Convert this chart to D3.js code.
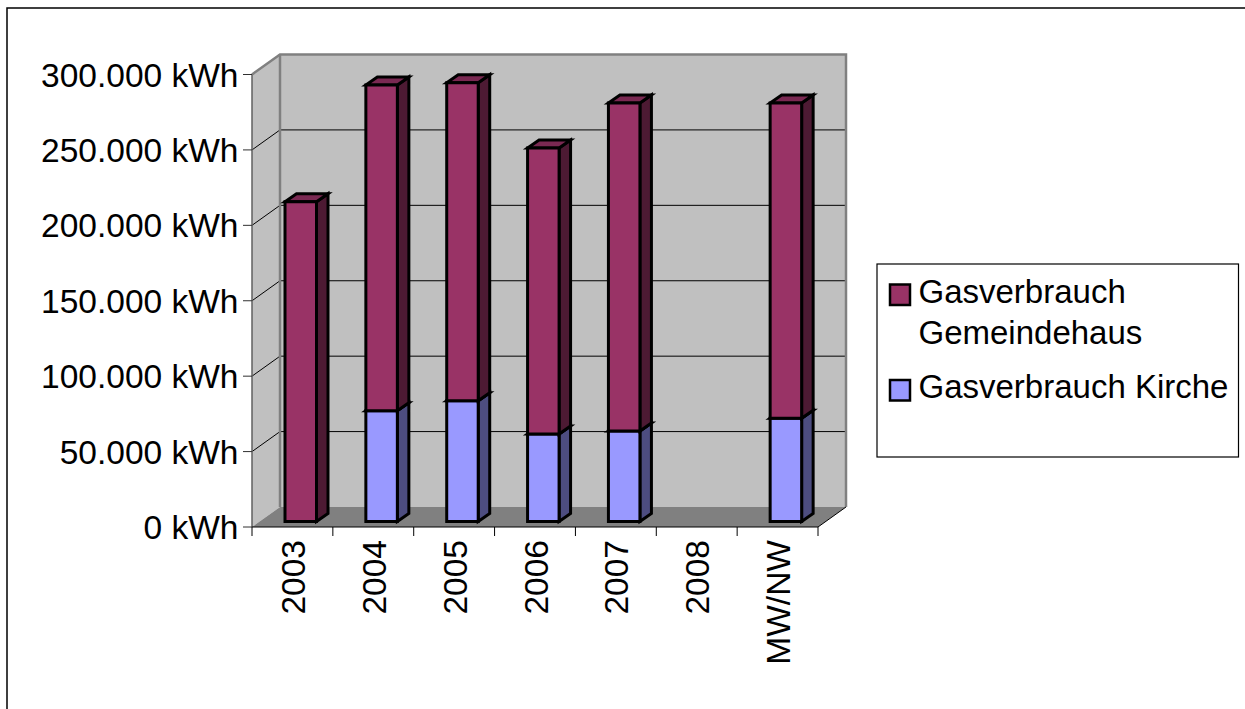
<!DOCTYPE html>
<html><head><meta charset="utf-8">
<script src="https://cdn.jsdelivr.net/npm/d3@7/dist/d3.min.js"></script>
<style>html,body{margin:0;background:#fff}svg{display:block}text{font-family:"Liberation Sans",Arial,sans-serif;fill:#000}</style>
</head><body><svg width="1245" height="709"></svg>
<script>
const categories = ["2003","2004","2005","2006","2007","2008","MW/NW"];
const kirche = [0,73500,80100,58000,60000,null,68400];
const gemeindehaus = [212000,215900,210800,189600,217500,null,209100];
const yTicks = [0,50000,100000,150000,200000,250000,300000];
const legendItems = [["Gasverbrauch","Gemeindehaus"],["Gasverbrauch Kirche"]];
const colors = {gem:"#993366",gemSide:"#4d1a33",gemTop:"#7a2952",kir:"#9999ff",kirSide:"#4d4d80",wall:"#c0c0c0",floor:"#808080"};

const svg = d3.select("svg");
const fmt = v => d3.format(",")(v).replace(/,/g,".")+" kWh";
const frontX0=252, frontX1=818, y0=527, y300=74.5, dX=28, dY=-20;
const x = d3.scaleBand().domain(categories).range([frontX0,frontX1]);
const y = d3.scaleLinear().domain([0,300000]).range([y0,y300]);

svg.append("rect").attr("x",7).attr("y",8).attr("width",1245).attr("height",710).attr("fill","#fff").attr("stroke","#000").attr("stroke-width",1.5);

const poly=(pts,fill)=>svg.append("polygon").attr("points",pts.map(p=>p.join(",")).join(" ")).attr("fill",fill);
poly([[frontX0,y0],[frontX0+dX,y0+dY],[frontX0+dX,y300+dY],[frontX0,y300]],colors.wall);
poly([[frontX0+dX,y0+dY],[frontX1+dX,y0+dY],[frontX1+dX,y300+dY],[frontX0+dX,y300+dY]],colors.wall);
poly([[frontX0,y0],[frontX1,y0],[frontX1+dX,y0+dY],[frontX0+dX,y0+dY]],colors.floor);

yTicks.slice(1,-1).forEach(t=>{
  svg.append("path").attr("fill","none").attr("stroke","#000").attr("stroke-width",1)
   .attr("d",`M${frontX0},${y(t)}L${frontX0+dX},${y(t)+dY}L${frontX1+dX},${y(t)+dY}`);
});
svg.append("path").attr("fill","none").attr("stroke","#808080").attr("stroke-width",2.5)
  .attr("d",`M${frontX0},${y300}L${frontX0+dX},${y300+dY}L${frontX1+dX},${y300+dY}L${frontX1+dX},${y0+dY}`);
svg.append("path").attr("fill","none").attr("stroke","#808080").attr("stroke-width",2.5)
  .attr("d",`M${frontX0+dX},${y300+dY}L${frontX0+dX},${y0+dY}`);
svg.append("path").attr("fill","none").attr("stroke","#606060").attr("stroke-width",1.5)
  .attr("d",`M${frontX0},${y300}L${frontX0},${y0}`);
svg.append("path").attr("fill","none").attr("stroke","#000").attr("stroke-width",1)
  .attr("d",`M${frontX1+dX},${y0+dY}L${frontX1},${y0}L${frontX0},${y0}`);

const axisG=svg.append("g");
yTicks.forEach(t=>{
  axisG.append("line").attr("x1",frontX0-9).attr("x2",frontX0).attr("y1",y(t)).attr("y2",y(t)).attr("stroke","#303030").attr("stroke-width",1);
  axisG.append("text").attr("x",238.5).attr("y",y(t)+12).attr("text-anchor","end").attr("font-size",33.5).text(fmt(t));
});
x.domain().concat(["end"]).forEach((c,i)=>{
  const px=frontX0+i*x.step();
  axisG.append("line").attr("x1",px).attr("x2",px).attr("y1",y0).attr("y2",y0+9).attr("stroke","#000");
});
categories.forEach(c=>{
  const cx=x(c)+x.bandwidth()/2;
  axisG.append("text").attr("transform",`translate(${cx+12.6},540) rotate(-90)`).attr("text-anchor","end").attr("font-size",33.5).text(c);
});

const barW=31.5, bdx=11.5, bdy=-8, off=33, lift=5.5;
function poly2(g,pts,fill){g.append("polygon").attr("points",pts.map(p=>p.join(",")).join(" ")).attr("fill",fill);}
function bar(c,v0,v1,front,side,top){
  const l=x(c)+off, r=l+barW, b=y(v0)-lift, t=y(v1)-lift;
  const g=svg.append("g").attr("stroke","#000").attr("stroke-width",3).attr("stroke-linejoin","miter");
  poly2(g,[[r,b],[r+bdx,b+bdy],[r+bdx,t+bdy],[r,t]],side);
  poly2(g,[[l,t],[r,t],[r+bdx,t+bdy],[l+bdx,t+bdy]],top);
  poly2(g,[[l,b],[r,b],[r,t],[l,t]],front);
}
categories.forEach((c,i)=>{
  if(gemeindehaus[i]==null) return;
  const k=kirche[i]||0;
  if(k>0) bar(c,0,k,colors.kir,colors.kirSide,colors.kirSide);
  bar(c,k,k+gemeindehaus[i],colors.gem,colors.gemSide,colors.gemTop);
});

svg.append("rect").attr("x",877).attr("y",264).attr("width",361.5).attr("height",193).attr("fill","#fff").attr("stroke","#000").attr("stroke-width",1.2);
const lg=svg.append("g");
[[colors.gem,284.5],[colors.kir,380]].forEach(([f,yy])=>{
  lg.append("rect").attr("x",890).attr("y",yy).attr("width",20).attr("height",20.5).attr("fill",f).attr("stroke","#000").attr("stroke-width",2.5);
});
const ly=[[302.5,343.5],[397.5]];
legendItems.forEach((lines,i)=>lines.forEach((s,j)=>{
  lg.append("text").attr("x",918.5).attr("y",ly[i][j]).attr("font-size",33).text(s);
}));
</script></body></html>
